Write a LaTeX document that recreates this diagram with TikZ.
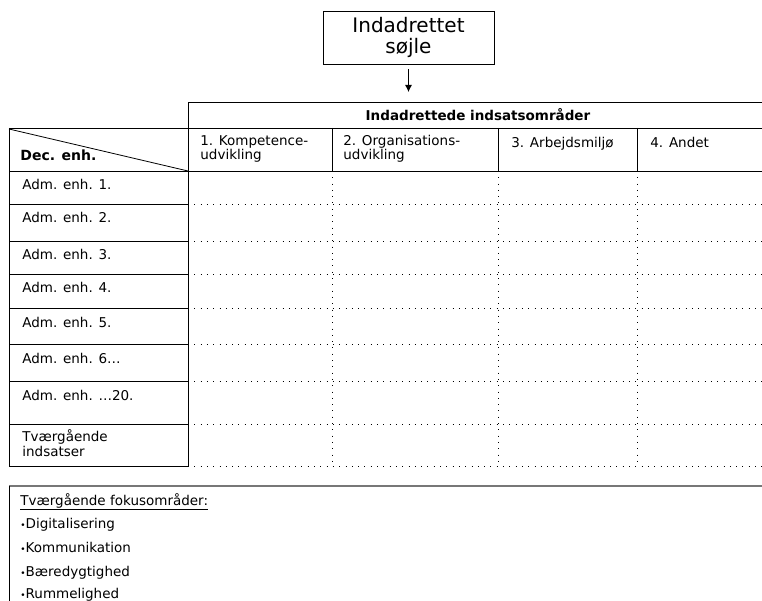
\documentclass[tikz,border=0pt]{standalone}
\usepackage{fontspec}
\setmainfont{DejaVu Sans}
\usetikzlibrary{positioning}
\usetikzlibrary{arrows.meta}
\definecolor{rulegray}{HTML}{777777}

\begin{document}
\begin{tikzpicture}[x=1pt, y=-1pt, line width=.8pt,
    cell/.style={anchor=base west, inner sep=0pt, align=left,
      font=\fontsize{13.5}{12.5}\selectfont},
    grid/.style={line width=.9pt, dash pattern=on 1pt off 5.3pt}]
  \useasboundingbox (0,0) rectangle (762,601);
  \clip (0,0) rectangle (762,601);

  % pillar and arrow
  \node[draw, minimum width=171pt, minimum height=53pt, align=center,
    font=\fontsize{20}{20.5}\selectfont] (pillar) at (408.5,37.5) {Indadrettet\\søjle};
  \node[inner sep=0pt, font=\bfseries\fontsize{13.5}{13.5}\selectfont] (head) at (478,115) {Indadrettede indsatsområder};
  \draw[-{Latex[length=7pt, width=7pt]}, shorten <=5pt, shorten >=10pt]
    (pillar.south) -- (pillar.south |- 0,102);

  % table frame
  \draw (188,128) -- (188,102) -- (770,102);
  \draw (9,128) -- (770,128);
  \draw (9,171) -- (770,171);
  \draw (9,128) -- (9,466);
  \draw (188,128) -- (188,466);
  \draw (9,129) -- (188,171);
  \foreach \x in {332,498,637} {
    \draw (\x,128) -- (\x,171);
    \draw[grid] (\x,171) -- (\x,466);
  }
  \foreach \y in {204,241,274,308,344,381,424,466} {
    \draw (9,\y) -- (188,\y);
    \draw[grid] (188,\y) -- (770,\y);
  }

  % column heads (base = last line)
  \node[cell, font=\bfseries\fontsize{14}{14}\selectfont] (dec) at (20,161) {Dec. enh.};
  \node[cell] (c1) at (200,160) {1. Kompetence-\\udvikling};
  \node[cell] (c2) at (343,160) {2. Organisations-\\udvikling};
  \node[cell] (c3) at (511,148) {3. Arbejdsmiljø};
  \node[cell] (c4) at (650,148) {4. Andet};

  % rows
  \node[cell] (r1) at (22,190) {Adm. enh. 1.};
  \node[cell] (r2) at (22,223) {Adm. enh. 2.};
  \node[cell] (r3) at (22,260) {Adm. enh. 3.};
  \node[cell] (r4) at (22,293) {Adm. enh. 4.};
  \node[cell] (r5) at (22,327) {Adm. enh. 5.};
  \node[cell] (r6) at (22,363) {Adm. enh. 6…};
  \node[cell] (r7) at (22,400) {Adm. enh. …20.};
  \node[cell] (r8) at (22,456) {Tværgående\\indsatser};

  % focus areas
  \draw[rulegray, line width=2pt] (9,486) -- (770,486);
  \draw (9,486) -- (9,610);
  \node[cell] (focus) at (20,505) {\underline{Tværgående fokusområder:}};
  \node[cell] (f1) at (20,528) {{\fontsize{9}{9}\selectfont•}Digitalisering};
  \node[cell] (f2) at (20,552) {{\fontsize{9}{9}\selectfont•}Kommunikation};
  \node[cell] (f3) at (20,576) {{\fontsize{9}{9}\selectfont•}Bæredygtighed};
  \node[cell] (f4) at (20,598) {{\fontsize{9}{9}\selectfont•}Rummelighed};
\end{tikzpicture}
\end{document}
